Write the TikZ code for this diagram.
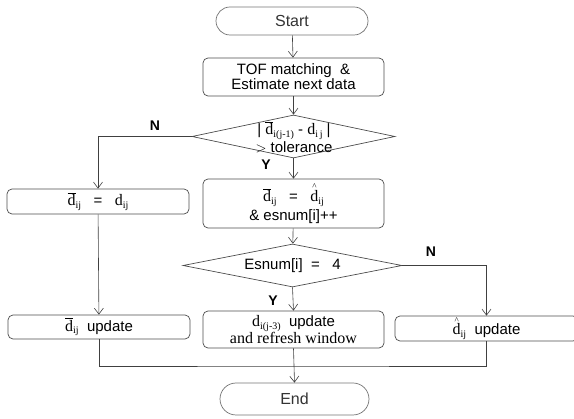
\documentclass[tikz,border=0pt]{standalone}
\usepackage{fontspec}
\setmainfont{Liberation Sans}
\newfontfamily\serifd{Liberation Serif}
\usetikzlibrary{shapes.geometric,shapes.misc,arrows.meta}

% variables d with overline / hat and small lowered indices
\newcommand\idx[1]{\raisebox{-0.35ex}{\fontsize{10}{10}\selectfont\serifd #1}}
\newcommand\dvar[1]{{\fontsize{16}{16}\selectfont\serifd d}\idx{#1}}
\newcommand\dbar[1]{{\fontsize{16}{16}\selectfont\serifd$\overline{\mbox{d}}$}\idx{#1}}
\newcommand\hatsign{\leavevmode\vbox{\offinterlineskip\halign{\hfil##\hfil\cr
  {\fontsize{9}{9}\selectfont\serifd\textasciicircum}\cr\noalign{\kern0.5pt}
  {\fontsize{16}{16}\selectfont\serifd d}\cr}}}
\newcommand\dhat[1]{\hatsign\idx{#1}}

\begin{document}
\begin{tikzpicture}[x=1pt,y=-1pt,
  font=\fontsize{15}{13.5}\selectfont,
  rbox/.style={draw=black!70, line width=0.7pt, rounded corners=5pt,
    inner sep=0pt, align=center},
  term/.style={rounded rectangle, draw=black!55, line width=0.7pt,
    inner sep=0pt, text=black!80, font=\fontsize{16}{16}\selectfont},
  decision/.style={diamond, draw=black!70, line width=0.7pt, inner sep=0pt},
  flow/.style={draw=black!75, line width=0.6pt,
    -{Straight Barb[length=6pt,width=9pt]}},
  link/.style={draw=black!75, line width=0.6pt},
  lab/.style={font=\bfseries\fontsize{14}{14}\selectfont}]

\useasboundingbox (0,0) rectangle (574,419);
\clip (0,0) rectangle (574,419);

% terminals
\node[term, minimum width=152pt, minimum height=28pt] (start) at (292,21) {Start};
\node[term, minimum width=149pt, minimum height=32pt] (end) at (294.5,399) {End};

% main column
\node[rbox, minimum width=181pt, minimum height=38pt] (tof) at (293.5,77)
  {TOF matching \ \&\\Estimate next data};
\node[decision, minimum width=203pt, minimum height=43pt] (chk) at (293.5,136.5) {};
\node[align=center] (chktxt) at (294,137)
  {| \dbar{i(j-1)} - \dvar{i\,j} |\\[1pt]$>$ tolerance};
\node[rbox, minimum width=181pt, minimum height=49pt] (est) at (293.5,203.5)
  {\dbar{ij} \ \ = \ \ \dhat{ij}\\[2pt]\& esnum[i]++};
\node[decision, minimum width=219pt, minimum height=43pt] (cnt) at (292.5,265.5) {};
\node (cnttxt) at (292.5,266) {Esnum[i] \ = \ \ 4};
\node[rbox, minimum width=181pt, minimum height=37pt] (refresh) at (293.5,329.5)
  {\dvar{i(j-3)} \ update\\{\fontsize{16}{14}\selectfont\serifd and refresh window}};

% left column
\node[rbox, minimum width=182pt, minimum height=25pt] (keep) at (98,201.5)
  {\dbar{ij} \ \ = \ \ \dvar{ij}};
\node[rbox, minimum width=182pt, minimum height=24pt] (lupd) at (99,327)
  {\dbar{ij} \ update};

% right column
\node[rbox, minimum width=183pt, minimum height=25pt] (rupd) at (486.5,328.5)
  {\dhat{ij} \ update};

% connectors
\draw[flow] (start) -- (tof);
\draw[flow] (tof) -- (chk);
\draw[flow] (chk.west) -| (keep.north);
\draw[flow] (chk.south) -- (est.north);
\draw[flow] (keep) -- (lupd);
\draw[flow] (est) -- (cnt);
\draw[flow] (cnt.east) -| (rupd.north);
\draw[flow] (cnt.south) -- (refresh.north);

\coordinate (merge) at (293.5,366);
\draw[link] (lupd.south) |- (merge) -| (rupd.south);
\draw[flow] (refresh.south) -- (end.north);

% branch labels
\node[lab] (n1) at (155,126) {N};
\node[lab] (y1) at (266,165) {Y};
\node[lab] (n2) at (431,252) {N};
\node[lab] (y2) at (273,301) {Y};
\end{tikzpicture}
\end{document}
